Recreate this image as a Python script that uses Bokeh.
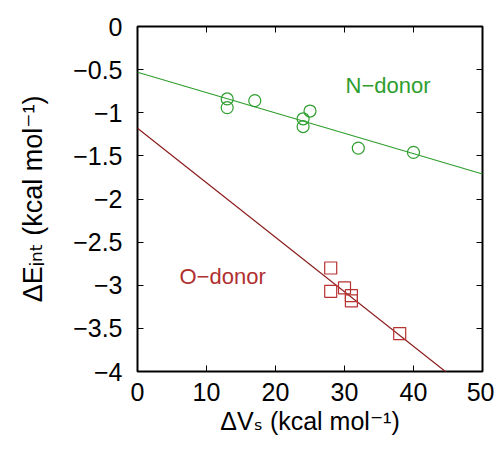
from bokeh.plotting import figure
from bokeh.models import Range1d, FixedTicker, LinearAxis, Label
from bokeh.embed import file_html
from bokeh.resources import INLINE

# ---- data ----
n_x = [13, 13, 17, 25, 24, 24, 32, 40]
n_y = [-0.84, -0.94, -0.86, -0.98, -1.07, -1.16, -1.41, -1.46]
o_x = [28, 28, 30, 31, 31, 38]
o_y = [-2.80, -3.07, -3.03, -3.12, -3.18, -3.56]
n_fit_x = [0, 50]
n_fit_y = [-0.53, -1.71]
o_fit_x = [0, 50]
o_fit_y = [-1.18, -4.34]
x_ticks = [0, 10, 20, 30, 40, 50]
x_tick_labels = ["0", "10", "20", "30", "40", "50"]
y_ticks = [0, -0.5, -1, -1.5, -2, -2.5, -3, -3.5, -4]
y_tick_labels = ["0", "\u22120.5", "\u22121", "\u22121.5", "\u22122",
                 "\u22122.5", "\u22123", "\u22123.5", "\u22124"]
x_label = "\u0394V\u209b (kcal mol\u207b\u00b9)"
y_label = "\u0394E\u1d62\u2099\u209c (kcal mol\u207b\u00b9)"
n_name = "N\u2212donor"
o_name = "O\u2212donor"

FONT = "Liberation Sans, DejaVu Sans"
GREEN = "#2e9e2e"
RED_TXT = "#b03030"
RED_PT = "#b83232"
RED_LINE = "#8b1c1c"

# frame placement (page pixels)
FL, FR, FT, FB = 137, 482, 26, 371
W, H = 494, 437
X0, X1, Y0, Y1 = 0, 50, -4, 0

p = figure(width=W, height=H, output_backend="svg", toolbar_location=None,
           x_range=Range1d(X0, X1), y_range=Range1d(Y0, Y1),
           min_border_left=FL, min_border_right=W - FR,
           min_border_top=FT, min_border_bottom=H - FB)
p.background_fill_color = "white"
p.border_fill_color = "white"
p.grid.visible = False
p.outline_line_color = "black"
p.outline_line_width = 2

for ax in (p.xaxis[0], p.yaxis[0]):
    ax.axis_line_color = None
    ax.major_tick_in = 6
    ax.major_tick_out = 0
    ax.minor_tick_line_color = None
    ax.major_tick_line_color = "black"
    ax.major_tick_line_width = 1
    ax.major_label_text_font = FONT
    ax.major_label_text_font_size = "25px"
    ax.major_label_text_color = "black"
    ax.axis_label_text_font = FONT
    ax.axis_label_text_font_style = "normal"
    ax.axis_label_text_color = "black"

p.xaxis[0].ticker = FixedTicker(ticks=x_ticks)
p.xaxis[0].major_label_overrides = {t: l for t, l in zip(x_ticks, x_tick_labels)}
p.xaxis[0].major_label_standoff = 11
p.xaxis[0].axis_label = x_label
p.xaxis[0].axis_label_text_font_size = "25px"
p.xaxis[0].axis_label_standoff = 3

p.yaxis[0].ticker = FixedTicker(ticks=y_ticks)
p.yaxis[0].major_label_overrides = {t: l for t, l in zip(y_ticks, y_tick_labels)}
p.yaxis[0].major_label_standoff = 15
p.yaxis[0].axis_label = y_label
p.yaxis[0].axis_label_text_font_size = "27px"
p.yaxis[0].axis_label_standoff = 22

top = LinearAxis(ticker=FixedTicker(ticks=x_ticks), axis_line_color=None,
                 major_tick_in=6, major_tick_out=0, minor_tick_line_color=None,
                 major_label_overrides={t: "" for t in x_ticks},
                 major_label_standoff=0)
right = LinearAxis(ticker=FixedTicker(ticks=y_ticks), axis_line_color=None,
                   major_tick_in=6, major_tick_out=0, minor_tick_line_color=None,
                   major_label_overrides={t: "" for t in y_ticks},
                   major_label_standoff=0)
p.add_layout(top, "above")
p.add_layout(right, "right")

# fit lines
p.line(n_fit_x, n_fit_y, line_color=GREEN, line_width=1.2)
p.line(o_fit_x, o_fit_y, line_color=RED_LINE, line_width=1.2)

# points
p.scatter(n_x, n_y, marker="circle", size=12, fill_color=None,
          line_color=GREEN, line_width=1.2)
p.scatter(o_x, o_y, marker="square", size=12, fill_color=None,
          line_color=RED_PT, line_width=1.2)


def dx(px):
    return X0 + (px - FL) * (X1 - X0) / (FR - FL)


def dy(py):
    return Y1 - (py - FT) * (Y1 - Y0) / (FB - FT)


def tag(px, py, text, color):
    p.add_layout(Label(x=dx(px), y=dy(py), text=text,
                       text_font=FONT, text_font_size="22px",
                       text_color=color, text_baseline="alphabetic",
                       text_align="left"))


tag(345, 85, n_name, GREEN)
tag(179, 276, o_name, RED_TXT)

open("out.html", "w").write(file_html(p, INLINE))
